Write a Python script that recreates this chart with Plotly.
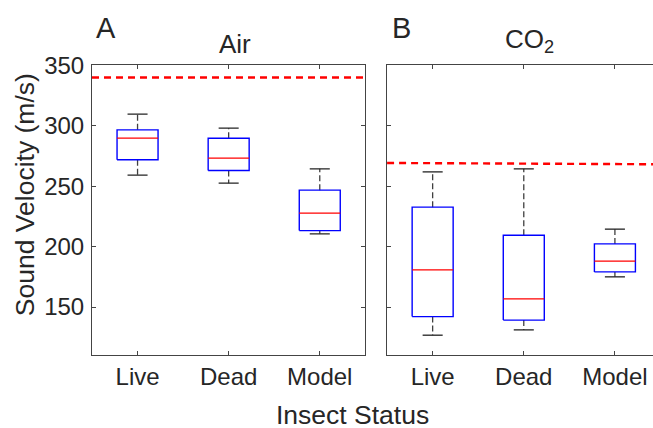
import plotly.graph_objects as go

categories = ["Live", "Dead", "Model"]
positions = [1, 2, 3]

# Air panel (A)
air_upper = [309.7, 298.1, 264.4]
air_q3 = [296.7, 289.8, 246.8]
air_median = [289.8, 273.3, 227.7]
air_q1 = [271.9, 263.0, 213.3]
air_lower = [259.2, 252.6, 210.6]
air_ref_x = [0.5, 3.5]
air_ref_y = [340.0, 340.0]

# CO2 panel (B)
co2_upper = [261.9, 264.4, 214.5]
co2_q3 = [232.7, 209.5, 202.3]
co2_median = [180.8, 156.8, 188.0]
co2_q1 = [142.1, 139.2, 179.1]
co2_lower = [126.7, 131.1, 175.0]
co2_ref_x = [0.5, 3.5]
co2_ref_y = [269.3, 268.2]

y_ticks = [150, 200, 250, 300, 350]

BOX_HW = 0.225
CAP_HW = 0.11
TXT = "#262626"
AX = "#444444"
FONT = "Liberation Sans, Arial, sans-serif"

fig = go.Figure()


def add_boxes(xa, ya, upper, q3, med, q1, lower):
    for p, u, a, m, b, l in zip(positions, upper, q3, med, q1, lower):
        # whiskers (dashed)
        fig.add_trace(go.Scatter(x=[p, p, None, p, p], y=[a, u, None, b, l], mode="lines",
                                 line=dict(color="#404040", width=1.3, dash="6px,3px"),
                                 xaxis=xa, yaxis=ya, showlegend=False, hoverinfo="skip"))
        # caps
        fig.add_trace(go.Scatter(x=[p - CAP_HW, p + CAP_HW, None, p - CAP_HW, p + CAP_HW],
                                 y=[u, u, None, l, l], mode="lines",
                                 line=dict(color="#222222", width=1.3),
                                 xaxis=xa, yaxis=ya, showlegend=False, hoverinfo="skip"))
        # box
        fig.add_trace(go.Scatter(x=[p - BOX_HW, p + BOX_HW, p + BOX_HW, p - BOX_HW, p - BOX_HW],
                                 y=[b, b, a, a, b], mode="lines",
                                 line=dict(color="#0000ff", width=1.4),
                                 xaxis=xa, yaxis=ya, showlegend=False, hoverinfo="skip"))
        # median
        fig.add_trace(go.Scatter(x=[p - BOX_HW, p + BOX_HW], y=[m, m], mode="lines",
                                 line=dict(color="#ff0000", width=1.2),
                                 xaxis=xa, yaxis=ya, showlegend=False, hoverinfo="skip"))


add_boxes("x", "y", air_upper, air_q3, air_median, air_q1, air_lower)
add_boxes("x2", "y2", co2_upper, co2_q3, co2_median, co2_q1, co2_lower)

fig.add_trace(go.Scatter(x=air_ref_x, y=air_ref_y, mode="lines",
                         line=dict(color="#ff0000", width=2.4, dash="7px,5px"),
                         xaxis="x", yaxis="y", showlegend=False, hoverinfo="skip"))
fig.add_trace(go.Scatter(x=co2_ref_x, y=co2_ref_y, mode="lines",
                         line=dict(color="#ff0000", width=2.4, dash="7px,5px"),
                         xaxis="x2", yaxis="y2", showlegend=False, hoverinfo="skip"))

common_x = dict(tickmode="array", tickvals=positions, ticktext=categories,
                ticks="inside", ticklen=4, tickcolor=AX, showline=True, linecolor=AX,
                linewidth=1, showgrid=False, zeroline=False,
                tickfont=dict(size=24, color=TXT, family=FONT))
common_y = dict(tickmode="array", tickvals=y_ticks, range=[110.3, 350.4],
                ticks="inside", ticklen=4, tickcolor=AX, showline=True, linecolor=AX,
                linewidth=1, showgrid=False, zeroline=False,
                tickfont=dict(size=24, color=TXT, family=FONT))

fig.update_layout(
    width=653, height=428,
    margin=dict(l=92, r=0, t=65, b=73),
    paper_bgcolor="white", plot_bgcolor="white",
    xaxis=dict(domain=[0, 0.4872], range=[0.5, 3.5], mirror="ticks", **common_x),
    yaxis=dict(mirror="ticks", ticklabelstandoff=2, **common_y),
    xaxis2=dict(domain=[0.526, 1], range=[0.5, 3.418], mirror="ticks", anchor="y2", **common_x),
    yaxis2=dict(anchor="x2", showticklabels=False, mirror=False, **common_y),
)

ann = [
    dict(text="A", x=0.004, y=1.128, xanchor="left", yanchor="middle", font=dict(size=29)),
    dict(text="Air", x=0.255, y=1.072, xanchor="center", yanchor="middle", font=dict(size=26)),
    dict(text="B", x=0.531, y=1.128, xanchor="left", yanchor="middle", font=dict(size=29)),
    dict(text="CO<sub>2</sub>", x=0.78, y=1.085, xanchor="center", yanchor="middle", font=dict(size=26)),
    dict(text="Insect Status", x=0.4635, y=-0.208, xanchor="center", yanchor="middle", font=dict(size=26.5)),
    dict(text="Sound Velocity (m/s)", x=-0.119, y=0.552, xanchor="center", yanchor="middle",
         textangle=-90, font=dict(size=26.5)),
]
for a in ann:
    a["font"].update(color=TXT, family=FONT)
    fig.add_annotation(xref="paper", yref="paper", showarrow=False, **a)

fig.write_html("out.html")
